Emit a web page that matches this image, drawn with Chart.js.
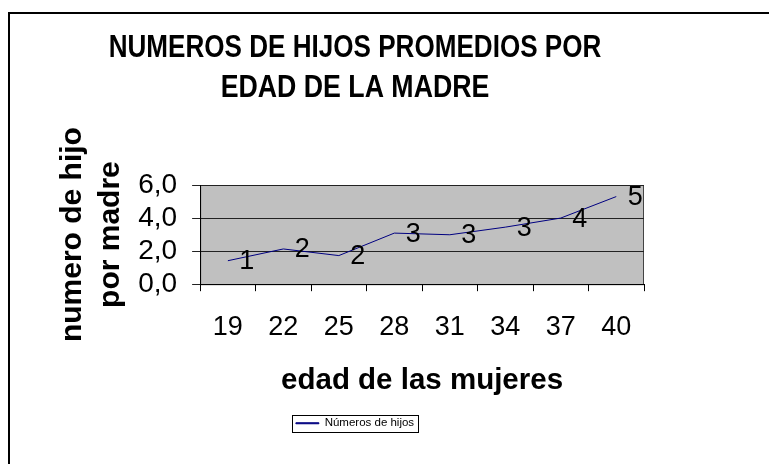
<!DOCTYPE html>
<html>
<head>
<meta charset="utf-8">
<script src="https://cdn.jsdelivr.net/npm/chart.js@4.4.1/dist/chart.umd.min.js"></script>
<style>
  body { margin: 0; background: #fff; }
  #frame { position: absolute; left: 8px; top: 12px; width: 800px; height: 500px; border-top: 2px solid #000; border-left: 2px solid #000; }
  #wrap { position: absolute; left: 10px; top: 14px; width: 690px; height: 450px; }
</style>
</head>
<body>
<div id="frame"></div>
<div id="wrap"><canvas id="line-chart"></canvas></div>
<script>
// edad de la madre
var edades = ['19', '22', '25', '28', '31', '34', '37', '40'];
// numero de hijos promedio
var hijos = [1.42, 2.13, 1.73, 3.09, 2.99, 3.45, 4.0, 5.3];
var yTicks = [0, 2, 4, 6];

// gray plot area with a border, like the old Excel charts
var plotBg = {
  id: 'plotBg',
  beforeDraw: function (chart) {
    var a = chart.chartArea, ctx = chart.ctx;
    ctx.save();
    ctx.fillStyle = '#C0C0C0';
    ctx.fillRect(a.left, a.top, a.right - a.left, a.bottom - a.top);
    ctx.strokeStyle = '#444';
    ctx.lineWidth = 1;
    ctx.strokeRect(a.left + 0.5, a.top + 0.5, a.right - a.left - 1, a.bottom - a.top);
    ctx.restore();
  }
};

// rounded value next to each point
var pointLabels = {
  id: 'pointLabels',
  afterDatasetsDraw: function (chart) {
    var ctx = chart.ctx;
    var meta = chart.getDatasetMeta(0);
    ctx.save();
    ctx.font = '27px "Liberation Sans", Arial, sans-serif';
    ctx.fillStyle = '#000';
    ctx.textAlign = 'center';
    ctx.textBaseline = 'middle';
    meta.data.forEach(function (pt, i) {
      ctx.fillText(hijos[i].toFixed(0), pt.x + 19, pt.y + 1);
    });
    ctx.restore();
  }
};

// title and legend sit a bit left of the plot centre in the original,
// and the title is drawn squeezed horizontally
var shiftBlocks = {
  id: 'shiftBlocks',
  afterLayout: function (chart) {
    [chart.titleBlock, chart.legend].forEach(function (b) {
      if (b) { b.left += 6; b.right += 6; }
    });
    var t = chart.titleBlock;
    if (t && !t._squeezed) {
      var draw = t.draw;
      t.draw = function () {
        var ctx = this.ctx, cx = (this.left + this.right) / 2;
        ctx.save();
        ctx.translate(cx, 0);
        ctx.scale(0.835, 1);
        ctx.translate(-cx, 0);
        draw.apply(this, arguments);
        ctx.restore();
      };
      t._squeezed = true;
    }
  }
};

// box around the legend
var legendBox = {
  id: 'legendBox',
  afterDraw: function (chart) {
    var hb = chart.legend.legendHitBoxes[0];
    if (!hb) return;
    var ctx = chart.ctx;
    ctx.save();
    ctx.strokeStyle = '#000';
    ctx.lineWidth = 1;
    ctx.strokeRect(Math.round(hb.left - 4) + 0.5, Math.round(hb.top - 3) + 0.5, Math.round(hb.width + 8), Math.round(hb.height + 5));
    ctx.restore();
  }
};

new Chart(document.getElementById('line-chart'), {
  type: 'line',
  data: {
    labels: edades,
    datasets: [{
      data: hijos,
      label: 'Números de hijos',
      borderColor: '#000080',
      backgroundColor: '#000080',
      borderWidth: 1,
      pointRadius: 0,
      tension: 0,
      fill: false
    }]
  },
  options: {
    responsive: true,
    maintainAspectRatio: false,
    animation: false,
    layout: { padding: { left: 44, right: 56, top: 0, bottom: 25 } },
    plugins: {
      title: {
        display: true,
        text: ['NUMEROS DE HIJOS PROMEDIOS POR', 'EDAD DE LA MADRE'],
        color: '#000',
        font: { family: '"Liberation Sans", Arial, sans-serif', size: 32, weight: 'bold', lineHeight: 1.25 },
        padding: { top: 14, bottom: 77 }
      },
      legend: {
        position: 'bottom',
        labels: {
          color: '#000',
          font: { family: '"Liberation Sans", Arial, sans-serif', size: 11.5 },
          boxWidth: 23,
          boxHeight: 1,
          padding: 10
        }
      },
      tooltip: { enabled: false }
    },
    scales: {
      x: {
        offset: true,
        grid: { offset: true, drawOnChartArea: false, tickLength: 7, color: '#000' },
        border: { color: '#000' },
        ticks: { color: '#000', font: { family: '"Liberation Sans", Arial, sans-serif', size: 27 }, padding: 20, maxRotation: 0, autoSkip: false },
        title: {
          display: true,
          text: 'edad de las mujeres',
          color: '#000',
          font: { family: '"Liberation Sans", Arial, sans-serif', size: 29.5, weight: 'bold', lineHeight: 1.15 },
          padding: { top: 0, bottom: 10 }
        }
      },
      y: {
        min: 0,
        max: 6,
        afterBuildTicks: function (axis) {
          axis.ticks = yTicks.map(function (v) { return { value: v }; });
        },
        // fit() counts the tick padding twice; drop the extra
        afterFit: function (axis) { axis.width -= 15; },
        grid: { color: '#222', tickLength: 8 },
        border: { color: '#000' },
        ticks: {
          color: '#000',
          autoSkip: false,
          font: { family: '"Liberation Sans", Arial, sans-serif', size: 28 },
          padding: 15,
          callback: function (v) { return v.toFixed(1).replace('.', ','); }
        },
        title: {
          display: true,
          text: ['numero de hijo', 'por madre'],
          color: '#000',
          font: { family: '"Liberation Sans", Arial, sans-serif', size: 30, weight: 'bold', lineHeight: 1.27 },
          padding: { top: 0, bottom: 8 }
        }
      }
    }
  },
  plugins: [plotBg, pointLabels, shiftBlocks, legendBox]
});
</script>
</body>
</html>
